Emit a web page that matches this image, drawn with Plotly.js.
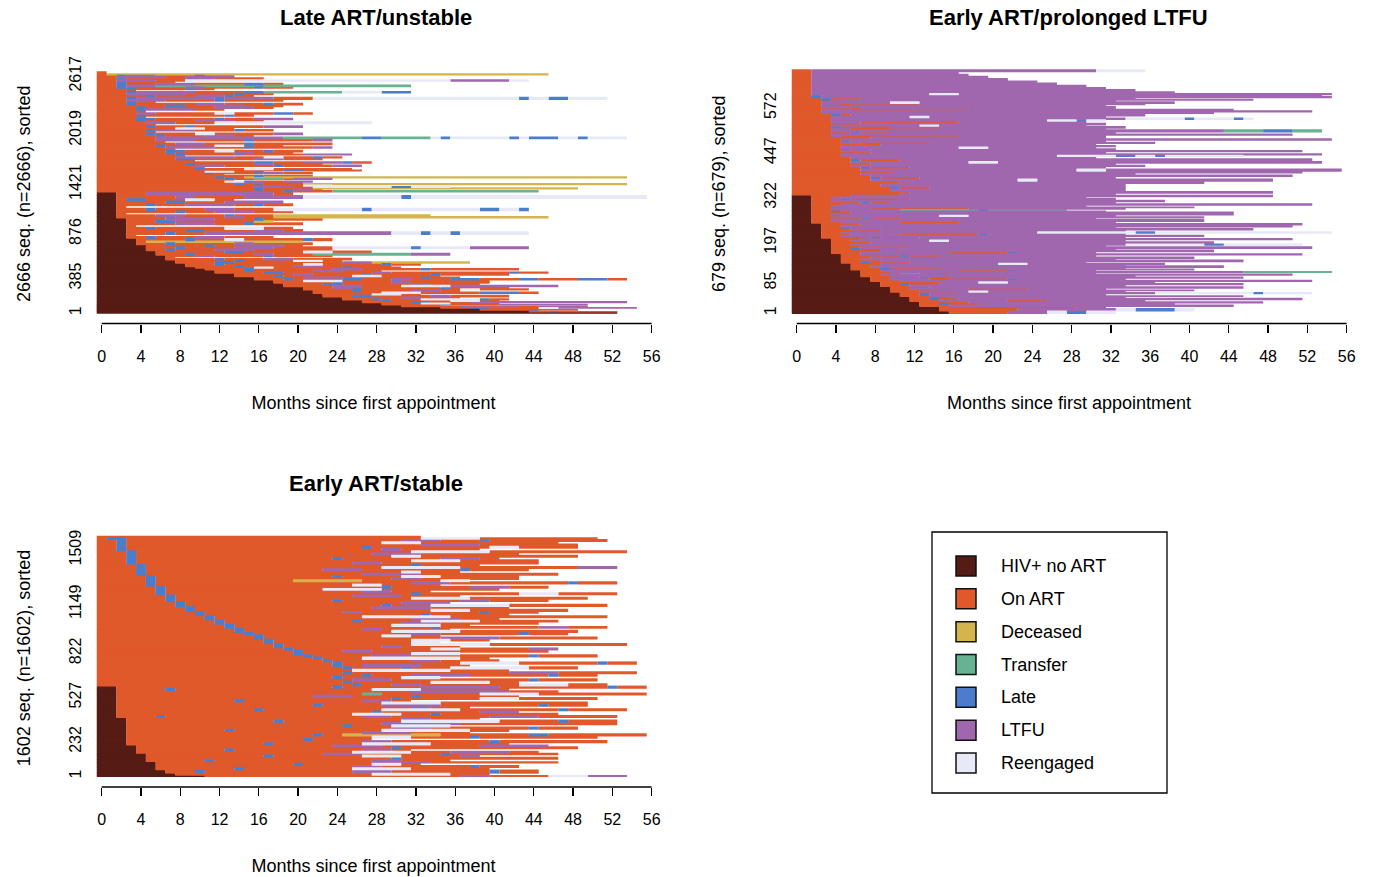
<!DOCTYPE html>
<html><head><meta charset="utf-8">
<script src="https://cdn.plot.ly/plotly-3.0.1.min.js"></script>
<style>html,body{margin:0;padding:0;background:#fff}#chart{width:1374px;height:877px}</style>
</head><body><div id="chart"></div>
<script>
// ---- states ----
const stateCodes  = ['N','A','D','T','L','F','R'];
const stateNames  = ['HIV+ no ART','On ART','Deceased','Transfer','Late','LTFU','Reengaged'];
const stateColors = ['#561b15','#e0592b','#d5b44c','#67b290','#4c7dcc','#a067af','#e7e9f6'];

const monthTicks = [0,4,8,12,16,20,24,28,32,36,40,44,48,52,56];

// ---- Late ART/unstable (n=2666): band upper row + run-length sequence (state+months) ----
const lateN = 2666;
const lateTicks = [1,385,876,1421,2019,2617];
const lateTop = [12,22,32,42,55,64,72,81,90,102,115,130,145,162,180,200,218,236,255,273,292,310,330,348,366,385,403,420,440,458,476,495,513,530,550,570,588,610,625,640,665,690,712,735,755,780,800,828,850,870,900,925,950,975,1000,1025,1050,1070,1090,1110,1130,1160,1185,1210,1240,1265,1300,1338,
 1357,1372,1388,1401,1418,1433,1445,1462,1477,1492,1508,1524,1540,1555,1570,1584,1600,1620,1639,1655,1675,1694,1712,1730,1745,1760,1780,1800,1820,1840,1860,1880,1900,1925,1947,1969,1990,2010,2030,2050,2070,2090,2115,2135,2155,2175,2195,2215,2240,2260,2280,2299,2320,2340,2360,2385,2410,2430,2450,2465,2482,2500,2520,2540,2560,2580,2600,2615,2629,2645,2666];
const lateSeq = ["N53","N44 A2 L1 A6","N44 A1","N39 A5 L1 A4","N39 A6","N35 A3 L2 A5 R2 F8","N35 A2 F6 A4","N31 A6 L1 A7 F5","N31 A4","N29 A6 L1 A5 F9","N29 A4 R3 A5","N27 A5 L2 A4 F16","N27 A2 L1 A6 R3 A2","N25 A3 L1 A4 R6 L1 A2","N25 A6 F2 A4","N23 A3 L2 A6 F2 A6","N23 A5 R3 A2","N22 A7 R4 A6 L4 A2","N22 A4 L1 A5 F3 A2","N21 A5 L1 A10 R2 A5","N21 A3 F2 A9 L1 A6","N19 A5 F3 A4 R5 F11","N19 A4 L2 A7 F2 A5","N18 A6 L1 A5 F2 A8","N18 A3 R4 A5 L1 A9","N16 A3 L1 A5 L2 A3 F2 A4 L3 A4 L2 A4 L3 A2","N16 A5 F4 A8 L1 A3","N14 A4 L1 A7 R3 A6","N14 A6 F2 A5 L1 A6 L1 A7","N12 A5 L2 A9 F2 A12 L1 A3","N12 A3 L1 A6 F3 A4","N11 A4 L1 A8 F3 A6 L1 A9","N10 A6 R2 A7 L1 A5","N9 A5 L1 A5 F3 A7","N9 A3 L1 A8 R2 A6 L1 A3","N8 A4 L2 A11 F3 D10","N8 A6 L1 A5 R3 A2","N7 A5 L1 A4 F3 A6","N7 A1","N7 A3 F2 A5 L1 A6","N6 A3 L1 A6 F2 A4 T10 F4","N6 A7 L2 A6 R3 A4","N5 A2 L1 A4 F4 A8","N5 A3 L1 A5 F4 A6 R8 L1 R5 F6","N5 A6 L1 A4 F3 A2","N4 A3 L1 A6 F2 A6","N4 A1 D16","N4 A5 L1 A3 R2 A6 L1 A2","N3 A2 L1 A4 F3 A5","N3 A1","N3 A4 L1 A3 F19 R3 L1 R2 L1 R7","N3 A6 L2 A5 F3 A2","N3 A2 L1 A7 R4 A3","N3 A1","N3 A5 F4 A3 L1 A5","N3 A3 L2 A8 D2","N3 A4 F5 A4 L1 A6","N2 A5 L1 A5 F2 A3 D28","N2 A4 F3 A4 L1 A4 D16","N2 A1","N2 A6 L1 A3 F4 A4","N2 A3 L1 A5 F3 A4 R9 L1 R11 L2 R2 L1","N2 A1","N2 A3 L1 A3 F5 A2 L1 A3","N2 A5 L2 A4 F6","N2 A1 L2 A4 R3 A2","N2 A6 F2 A5 F6 R10 L1 R24","N2 A3 F13 A2",
 "A19 L1 A4 T21","A16 L1 A3 F2 A1","A16 L1 A5 D27","A16 F4 A2 R8 L2 R4","A16 L1 A4 R3","A14 L1 A6 D33","A14 F3 A4","A13 R2 L1 A3 F3","A14","A13 L1 A2 T3 A1 F4","A12 L1 A2 D39","A16 L1 A5","A13","A11 L1 A5 F2 A3","A11 R3 A2 L1","A19 L2 A6","A10 L1 A4 R3 A8","A11","A10 F3 A5 L1 A5 F3","A9 L1 A6 F2 A5","A16 L2 A3 F4 L1 A2","A10","A8 L2 A6 F3 A4","A8 F6 A3 R2 A3 L1 A2","A9","A8 L1 A5 L1 A6 F5","A7 L1 A6 F2 A4","A7 L2 A3 R2 A3 L1 A3","A8","A7 F5 A3 L1 A6 F2","A6 L1 A5 R3 A4","A8 F3 A4 L1 A8","A7","A6 F4 A5 L1 A6 F2","A6 F13 T8 L2 T5 R1 L1 R6 L1 R1 L3 R2 L1 R4","A6 L1 A4 F3 A2","A5 L1 A4 R2 A6 F3","A6","A5 L1 F4 A4 L1 A3","A8 R3 A3","A5 L1 A3 L1 A7 F4","A6","A5 F3 A4 R16","A4 L1 A5 F4 A3","A4 L2 A6 L1 A3 F4","A5","A4 L1 A8 L1 A2","A4 F2 A6 R2 A4 L2 A2","A5","A4 L1 F5 A3","A4 L1 A7 F4 A2","A7 L2 A3 F3 A4","A3 L1 A6 F3 A4 L1 A3","A3 L1 A2","A3 F4 A5 L1 A6","A3 L1 F8 L1 F5 A4 R21 L1 R2 L2 R4","A5 L1 A4 F3 L1 A2","A3 F6 A5 L1 A3","A3 L1 F6 A5 L2 T8 R4 L3","A4","A3 L1 A5 L1 A2","A2 L1 A6 F2 A5 L1 A3","A2 L1 F3 T26","A2 L1 A3 F4 A5 L2 A2","A2 L1 A5","A2 F4 A3 R27 F6 R2","A2 L1 A6 F3 A5","A2 F5 A2 F5","A2 L1 F3 A4 L1 A3","A1 D45","A1"];

// ---- Early ART/prolonged LTFU (n=679) ----
const ltfuN = 679;
const ltfuTicks = [1,85,197,322,447,572];
const ltfuTop = [7,14,19,24,29,33,38,43,47,50,55,59,63,66,70,75,80,84,89,93,98,102,106,110,114,117,121,124,128,133,136,140,144,149,153,158,163,167,172,177,181,186,190,194,200,205,209,214,218,223,228,232,237,241,246,251,256,262,266,270,274,277,283,286,290,294,297,301,306,311,316,321,325,330,
 335,340,347,354,362,368,375,381,386,391,396,403,409,413,418,424,431,437,441,445,450,454,459,464,468,473,477,482,487,492,496,500,505,512,516,521,525,530,535,540,545,550,557,561,565,569,573,577,581,585,590,594,597,601,605,609,613,618,624,630,636,642,648,655,661,667,673,679];
const ltfuSeq = ["N16 A6 F4 R2 L2 R3","N15 A8 F10 R2 L4 R2","N15 A14 F3","N13 A3 F29","N13 A2 L1 A3 F20","N13 A5 F30","N12 A3 F7 A4 F10","N12 A2 L1 A2 F35","N12 A4 F18","N11 A3 F32","N11 A2 L1 F18","N11 A6 F20 R10 L1 R5","N10 A3 F5 R2 F14","N10 A5 L1 F25","N10 A2 F6 A6 F8","N10 A4 F32","N9 A3 F22","N9 A2 L1 A3 F31","N9 A6 F4 R3 F15","N8 A3 F42","N8 A2 F4 A8 L1 F11","N8 A5 L1 A2 F30","N7 A3 F25","N7 A2 F42","N7 A4 T2 A3 F15","N7 A3 F36 T9","N7 A2 F8 A5 L1 F8","N6 A4 F31","N6 A3 L1 A5 F19","N6 A2 F36","N6 A6 F22","N6 A3 F12 R3 F14","N5 A2 L1 A4 F18","N5 A4 F37","N5 A2 F5 A7 F14","N5 A3 F33","N5 A6 L1 A3 F16","N5 A2 F45","N4 A3 F9 A6 L1 F8","N4 A5 F34","N4 A2 L1 A4 F22","N4 A3 F46","N4 A8 F20","N4 A2 F28 R8 L2 R8","N4 A4 F35","N4 A2 F8 R2 F18","N4 A3 F44","N3 A5 L1 A4 F21","N3 A2 F37","N3 A3 F5 A8 L1 F14","N3 A2 F20 R10 L2 R18","N3 A6 F25","N3 A3 F41","N3 A2 L1 A3 F24","N3 A2 F46","N3 A4 F45","N2 A3 F6 A6 F16","N2 A2 F38","N2 A5 L1 A3 F20","N2 A2 F38","N2 A3 F10 R3 F15","N2 A2 F41","N2 A4 F39","N2 A2 L1 F27","N2 A3 F6 T8 L1 T8","N2 A2 F4 A10 F16","N2 A4 F35","N2 A2 F26","N2 A3 F48","N2 A5 L1 A2 F23","N2 A2 F34","N2 A3 L1 A6 F21","N2 A2 F26","N2 A4 F43",
 "A11 F22","A12 F37","A10 F24","A10 L1 A3 F20","A9 F25","A11 F31","A8 F15 R2 F24","A8 L1 A4 F20","A8 F43","A7 F28","A10 F42","A7 F22 R3 F24","A7 L1 A4 F20","A6 F30","A8 F25","A6 F12 R3 F33","A6 L1 A4 F42","A6 F25","A5 F22 R6 L2 R2 L1 R8","A5 F49","A8 F24","A5 F47","A5 L1 A2 F25","A5 F12 R3 F11","A5 F28","A9 F22","A5 F2 A7 F23","A5 L1 F26","A5 F50","A8 F24","A4 F1 A12 F15","A4 F47","A6 L1 A3 F23","A4 F40 T4 L3 T3","A4 F2 A9 F17","A4 L1 A5 F24","A4 F9 R2 F15","A7 F25","A4 F3 A10 F13","A4 F22 R3 L1 R2","A4 F30 R6 L1 R4 L1 R1","A4 F8 R2 F18","A4 L1 A1 F30","A3 F40","A3 F50","A3 F3 A12 F27","A7 F26","A3 F30","A3 L1 A2 F26","A3 F2 A8 F23","A3 F7 R3 F26","A5 F28","A3 L1 F43","A3 L1 A3 F28","A2 L1 F52","A2 L1 F51","A2 F12 R3 F38","A2 F37","A2 F33","A2 F30","A2 F28","A2 F25","A2 F23","A2 F20","A2 F18","A2 F16","A2 F15","A2 F29 R5"];

// ---- Early ART/stable (n=1602) ----
const stableN = 1602;
const stableTicks = [1,232,527,822,1149,1509];
const stableTop = [9,23,45,60,75,90,100,115,130,145,156,170,185,200,211,226,241,256,271,286,301,316,331,346,361,378,393,408,423,438,453,468,483,498,513,528,543,558,573,588,604,
 620,636,652,668,684,700,716,732,748,765,780,797,812,828,843,858,873,888,903,916,930,945,960,975,988,1000,1015,1030,1043,1058,1072,1087,1100,1116,1132,1148,1165,1180,1195,1210,1225,1240,1254,1268,1283,1298,1312,1326,1340,1355,1370,1385,1400,1415,1430,1445,1460,1475,1490,1505,1520,1535,1550,1565,1580,1592,1602];
const stableSeq = ["N11 A26 F3 A6 R4 F4","N8 A20 R8 A4","N7 A3 L1 A15 F4 A10 L1 A4","N6 A8 L1 A11 R6 A8","N6 A20 F3 A9 L1 A4","N6 A14 L1 A7 R3 A2","N6 A22 F6 A13","N5 A6 L1 A16 F3 A5","N5 A25 L1 A16","N5 A12 L1 A9 R4 A6 F2","N5 A18 F4 A8 L1 A11","N4 A22 R6 A4 F6 A3","N4 A9 L1 A13 F3 A2","N4 A26 L1 A18","N4 A20 F5 A10 F7","N3 A14 L1 A9 R7 A8","N3 A24 F3 A10 L1 A11","N3 A18 L1 A6","N3 A25 R4 A6 L1 A12","N3 A19 L1 A2 D10 A9 L2 A10","N3 A24 F5 A6","N3 A10 L1 A15 R9 A4","N3 A27 F4 A10 L1 A4","N3 A22 L1 A4 R6","N3 A26 F8 A16","N3 A15 L1 A12 R10 A6 L1 A5","N3 A28 F3 A5","N2 A4 L1 A20 F3 A10 F5 A8","N2 A24 R5 A3 L1 A12","N2 A26 L1 A10 F4","N2 A14 L1 A12 R8 A10 L1 A6","N2 A30 F2 A4","N2 A20 L1 A6 F6 A10 L1 A4","N2 A27 R6 A15","N2 A12 L1 A12 F3 A2","N2 A28 L1 A8 R4 A8","N2 A20 F4 A6 L1 A10","N2 A25 T2 A10 R6 A11","N2 A30 F10 A5","N2 A5 L1 A20 R5 A9","N2 A22 L1 A8 F8 A11 L1 A3",
 "A26 L1 A3 F3 A10 R5 A4","A25 L1 A8 R6 A3","A26 F4 A14 L1 A6","A24 L1 A6 R4","A27 L1 A4 F6 A8 L1 A4","A25 L1 A16 F5 A8","A26 R10 A6","A25 L1 A5 L1 A4 R8 A5","A24 L1 A2 F6 A5","A24 L1 A12 R6 A8 L1 A3","A23 L1 A8 F3 A6","A22 L1 A4 R10 A3","A21 L1 A6 F4 A12 L1 A6","A20 L1 A11 R5","A20 L1 A4 F3 A18","A19 L1 A14 R3 A7 F3","A18 L1 A10 F2 A6","A18 L1 A13 R8 A14","A17 L1 A14 R3","A17 L1 A14 R4 A4","A16 L1 A18 F6 A10","A16 L1 A12 R3 A3","A15 L1 A16 F3 A8 L1 A4","A14 L1 A15 R7 A12","A14 L1 A12 F2 A7","A13 L1 A20 L1 A10 F3 A4","A13 L1 A16 R5 A3","A12 L1 A18 F4 A10","A12 L1 A13 L1 A6 R6 A8","A11 L1 A20 F5 A4","A11 L1 A15 R9 A16","A10 L1 A22 L1 A8","A10 L1 A14 F2 A12 L1 A5","A9 L1 A24 R4 A10","A9 L1 A18 F6 A8","A8 L1 A20 L1 A4 R8 A10","A8 L1 A22 F5","A7 L1 A16 L1 A12 F3 A6","A7 L1 A24 R6 A12","A7 L1 A18 F5 A6","A6 L1 A25 L1 A10 R4 A6","A6 L1 A20 F3 A4","A6 L1 A16 R6 A12","A6 L1 A22 L1 A8 F4 A4","A5 L1 A20 R3 A6","A5 L1 A26 F4 A12 L1 A4","A5 L1 A14 D7 A8 R3","A5 L1 A24 F3 A10","A5 L1 A18 L1 A6 R4 A8","A4 L1 A22 F6 A14","A4 L1 A26 R2 A4","A4 L1 A18 F4 A10 L1 A6","A4 L1 A24 R8 A12 F4","A4 L1 A27 L1 A6","A3 L1 A22 F3 A16","A3 L1 A28 R5 A8","A3 L1 A20 L1 A10 F4 A2","A3 L1 A26 R3 A16","A3 L1 A24 F5 A10","A3 L1 A28 R8 A14","A2 L1 A26 F2 A8","A2 L1 A24 L1 A12 R3 A6","A2 L1 A30 F6 A10","A2 L1 A26 R4 A14","A2 L1 A28 F4 A4 L1 A12","A1 L2 A30 R6 A12","A33"];

// ---- geometry helpers (pixel layout of the 1374x877 page) ----
const W = 1374, H = 877;
const PXM = 9.82;                       // px per month
function xDom(l, r){ return [l/W, r/W]; }
function yDom(t, b){ return [1 - b/H, 1 - t/H]; }
function xRange(l, r, zeroPx){ return [(l-zeroPx)/PXM, (r-zeroPx)/PXM]; }
function yRange(t, b, row0Px, pxRow){ return [(row0Px-b)/pxRow, (row0Px-t)/pxRow]; }

// bands are stacked; a sub-pixel overlap avoids hairline seams between neighbouring bands
function buildBars(tops, seqs, xa, ya, pxRow){
  const pad = 0.8 / pxRow;
  const tr = stateCodes.map((c,i)=>({type:'bar', orientation:'h', xaxis:xa, yaxis:ya,
     x:[], y:[], base:[], width:[], marker:{color:stateColors[i], line:{width:0}},
     hoverinfo:'skip', showlegend:false}));
  let lo = 0;
  tops.forEach((hi, k)=>{
    let t = 0;
    seqs[k].trim().split(/\s+/).forEach(tok=>{
      const code = tok[0], len = parseFloat(tok.slice(1));
      const si = stateCodes.indexOf(code);
      if(si >= 0){
        tr[si].x.push(len); tr[si].y.push((lo+hi)/2);
        tr[si].base.push(t - 0.5); tr[si].width.push(hi-lo+pad);
      }
      t += len;
    });
    lo = hi;
  });
  return tr;
}

const P1 = {row0:313.3, pxRow:0.0906}, P2 = {row0:313.5, pxRow:0.359}, P3 = {row0:776.7, pxRow:0.1502};

const FONT = 'Liberation Sans, Arial, sans-serif';
const traces = [].concat(
  buildBars(lateTop, lateSeq, 'x', 'y', P1.pxRow),
  buildBars(ltfuTop, ltfuSeq, 'x2', 'y2', P2.pxRow),
  buildBars(stableTop, stableSeq, 'x3', 'y3', P3.pxRow)
);

// legend drawn as its own small panel
traces.push({type:'scatter', mode:'markers', xaxis:'x4', yaxis:'y4',
  x: stateNames.map(()=>34), y: stateNames.map((_,i)=>i),
  marker:{symbol:'square', size:20, color:stateColors, line:{color:'#111', width:1.5}},
  hoverinfo:'skip', showlegend:false});

function xAxis(l, r, zeroPx, anchor){
  return {domain:xDom(l,r), range:xRange(l,r,zeroPx), anchor:anchor,
    tickvals:monthTicks, ticktext:monthTicks.map(String), ticks:'outside', ticklen:8, tickwidth:1.3,
    tickcolor:'#000', showline:false, showgrid:false, zeroline:false,
    tickfont:{size:16, color:'#000'}, ticklabelstandoff:10,
    title:{text:'Months since first appointment', font:{size:18, color:'#000'}, standoff:32}, fixedrange:true};
}
function yAxis(t, b, P, ticks, n, anchor){
  return {domain:yDom(t,b), range:yRange(t,b,P.row0,P.pxRow), anchor:anchor,
    tickvals:ticks, ticktext:ticks.map(String), ticks:'', showline:false, showgrid:false, zeroline:false,
    tickangle:-90, tickfont:{size:16, color:'#000'}, ticklabelstandoff:0,
    title:{text:n+' seq. (n='+n+'), sorted', font:{size:18, color:'#000'}, standoff:31}, fixedrange:true};
}

const layout = {
  width:W, height:H, margin:{l:0,r:0,t:0,b:0}, paper_bgcolor:'#fff', plot_bgcolor:'rgba(0,0,0,0)',
  font:{family:FONT, color:'#000'}, barmode:'overlay', showlegend:false,
  xaxis:  xAxis(85, 662, 101.7, 'y'),
  yaxis:  yAxis(64, 323.5, P1, lateTicks, lateN, 'x'),
  xaxis2: xAxis(780, 1358, 796.7, 'y2'),
  yaxis2: yAxis(64, 323.5, P2, ltfuTicks, ltfuN, 'x2'),
  xaxis3: xAxis(85, 662, 101.7, 'y3'),
  yaxis3: yAxis(529, 787, P3, stableTicks, stableN, 'x3'),
  xaxis4: {domain:xDom(932,1167), range:[0,235], visible:false, fixedrange:true, anchor:'y4'},
  yaxis4: {domain:yDom(532,793), range:[6.914,-1.036], visible:false, fixedrange:true, anchor:'x4'},
  shapes: [
    {type:'line', xref:'x',  yref:'y domain',  x0:0, x1:56, y0:0, y1:0, line:{color:'#000', width:1.3}},
    {type:'line', xref:'x2', yref:'y2 domain', x0:0, x1:56, y0:0, y1:0, line:{color:'#000', width:1.3}},
    {type:'line', xref:'x3', yref:'y3 domain', x0:0, x1:56, y0:0, y1:0, line:{color:'#000', width:1.3}},
    {type:'rect', xref:'x4 domain', yref:'y4 domain', x0:0, x1:1, y0:0, y1:1, line:{color:'#000', width:1.3}}
  ],
  annotations: [
    {text:'<b>Late ART/unstable</b>', xref:'paper', yref:'paper', x:376/W, y:1-18/H, showarrow:false, font:{size:22}, xanchor:'center', yanchor:'middle'},
    {text:'<b>Early ART/prolonged LTFU</b>', xref:'paper', yref:'paper', x:1068/W, y:1-18/H, showarrow:false, font:{size:22}, xanchor:'center', yanchor:'middle'},
    {text:'<b>Early ART/stable</b>', xref:'paper', yref:'paper', x:376/W, y:1-483/H, showarrow:false, font:{size:22}, xanchor:'center', yanchor:'middle'}
  ].concat(stateNames.map((nm,i)=>({text:nm, xref:'x4', yref:'y4', x:67, y:i, showarrow:false,
      xanchor:'left', yanchor:'middle', font:{size:18, color:'#000'}})))
};

Plotly.newPlot('chart', traces, layout, {staticPlot:true, displayModeBar:false});
</script>
</body></html>
